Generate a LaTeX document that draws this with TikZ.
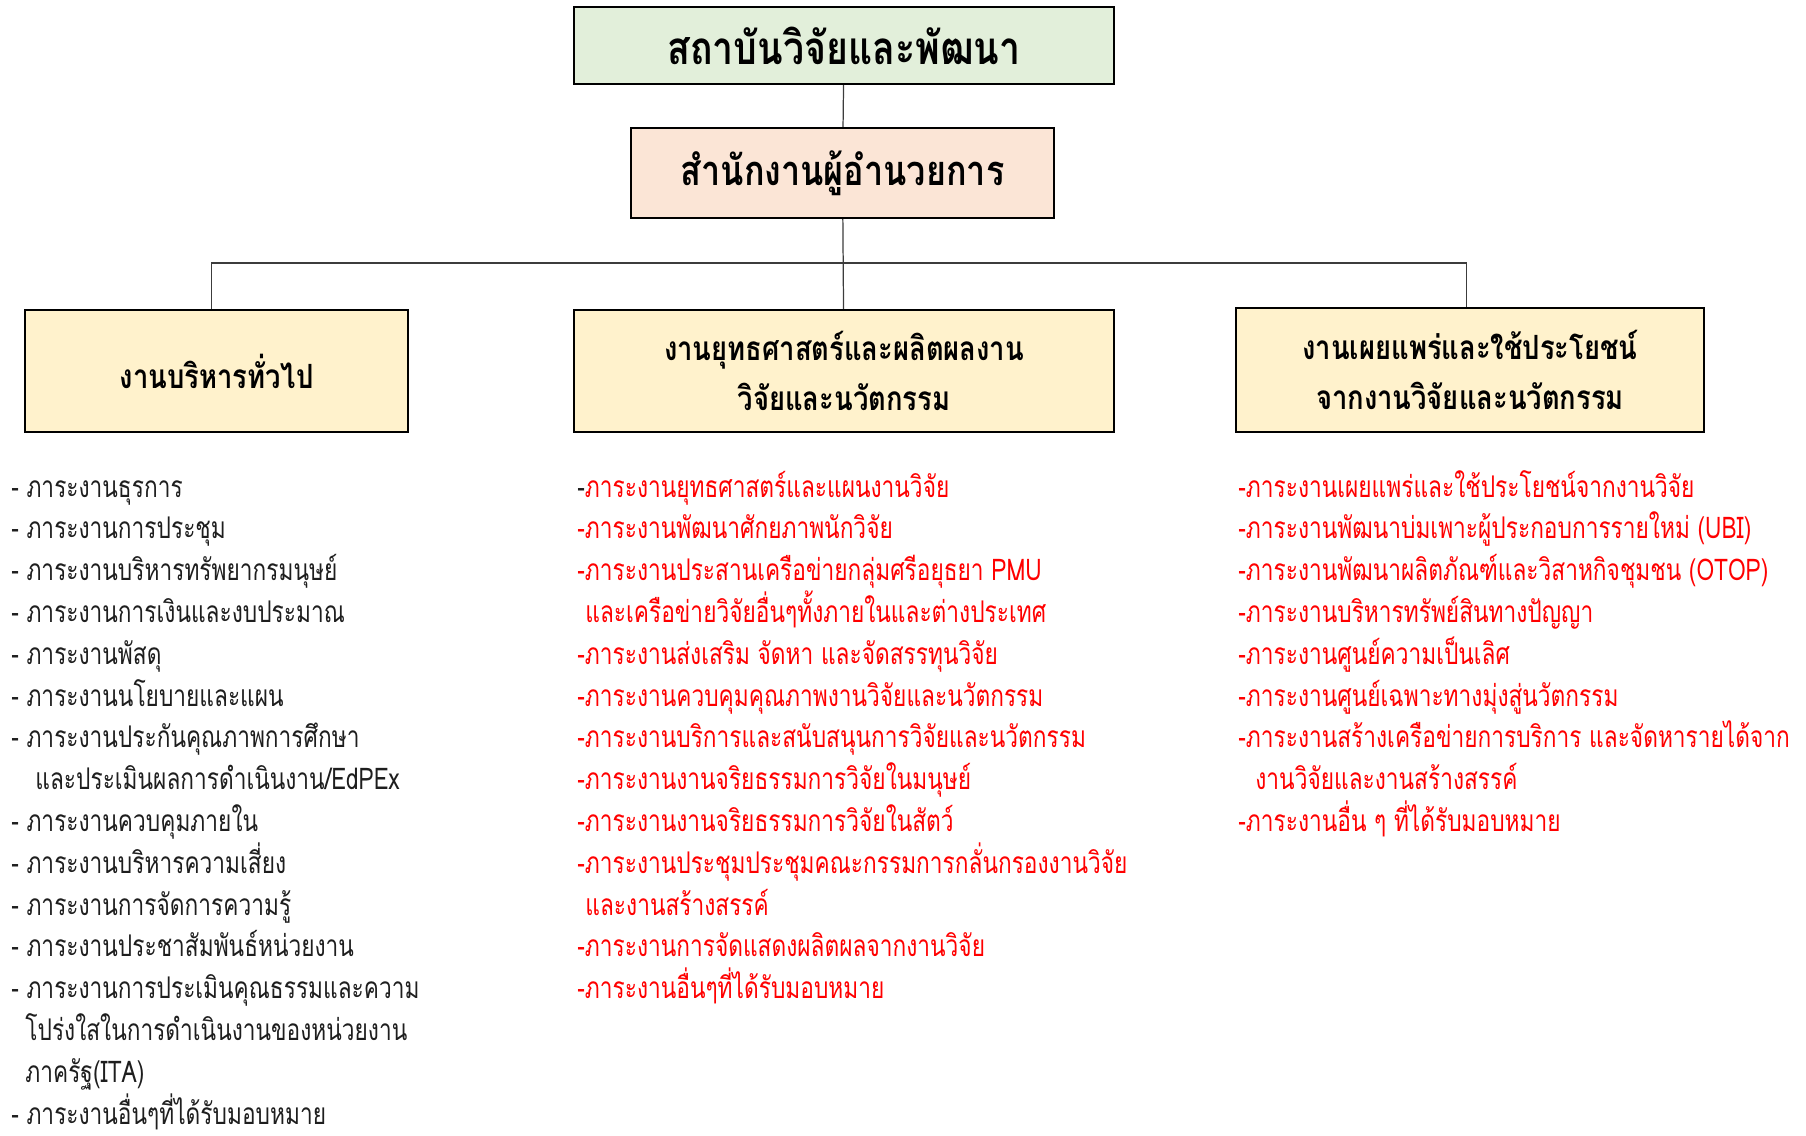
\documentclass[tikz,border=0pt]{standalone}
\usepackage{fontspec}
\newfontfamily\thaifont[Script=Thai,FakeStretch=0.76]{Loma}
\newfontfamily\thaihead[Script=Thai,FakeStretch=0.82]{Loma}
\usepackage{xcolor}
\definecolor{instgreen}{RGB}{226,239,218}
\definecolor{dirpeach}{RGB}{251,229,214}
\definecolor{unityellow}{RGB}{255,242,204}
\definecolor{taskred}{RGB}{255,0,0}
\definecolor{taskblack}{RGB}{30,30,30}
\definecolor{linegray}{RGB}{60,60,60}

\begin{document}
\begin{tikzpicture}[x=0.02cm,y=-0.02cm]
			\tikzstyle{box} = [draw=black,line width=1.4pt,align=center,inner sep=0pt]
			\tikzstyle{unit} = [box,fill=unityellow,minimum height=69.4pt,font=\thaihead\bfseries\fontsize{19}{28}\selectfont]
			\tikzstyle{link} = [draw=linegray,line width=0.7pt]
			\tikzstyle{task} = [anchor=base west,inner sep=0pt,font=\thaifont\fontsize{17}{20}\selectfont]
			\useasboundingbox (0,0) rectangle (1806,1136);
			\node[box,fill=instgreen,minimum width=307.3pt,minimum height=43.8pt,font=\thaihead\bfseries\fontsize{26}{30}\selectfont] (inst) at (844,45.5) {สถาบันวิจัยและพัฒนา};
			\node[box,fill=dirpeach,minimum width=240.7pt,minimum height=51.2pt,font=\thaihead\bfseries\fontsize{23.7}{28}\selectfont] (dir) at (842.5,173) {สำนักงานผู้อำนวยการ};
			\node[unit,minimum width=217.9pt] (admin) at (216.5,371) {งานบริหารทั่วไป};
			\node[unit,minimum width=307.3pt] (strat) at (844,371) {งานยุทธศาสตร์และผลิตผลงาน\\วิจัยและนวัตกรรม};
			\node[unit,minimum width=266.3pt,minimum height=70.6pt] (outr) at (1470,370) {งานเผยแพร่และใช้ประโยชน์\\จากงานวิจัยและนวัตกรรม};
			\coordinate (bus) at (844,263);
			\draw[link] (inst)--(dir);
			\draw[link] (dir)--(strat);
			\draw[link] ([xshift=-3pt]admin.north) |- (bus) -| ([xshift=-2pt]outr.north);
			\foreach \t [count=\i] in {- ภาระงานธุรการ,
				- ภาระงานการประชุม,
				- ภาระงานบริหารทรัพยากรมนุษย์,
				- ภาระงานการเงินและงบประมาณ,
				- ภาระงานพัสดุ,
				- ภาระงานนโยบายและแผน,
				- ภาระงานประกันคุณภาพการศึกษา,
				\hspace*{13.7pt}และประเมินผลการดำเนินงาน/EdPEx,
				- ภาระงานควบคุมภายใน,
				- ภาระงานบริหารความเสี่ยง,
				- ภาระงานการจัดการความรู้,
				- ภาระงานประชาสัมพันธ์หน่วยงาน,
				- ภาระงานการประเมินคุณธรรมและความ,
				\hspace*{8pt}โปร่งใสในการดำเนินงานของหน่วยงาน,
				\hspace*{8pt}ภาครัฐ(ITA),
				- ภาระงานอื่นๆที่ได้รับมอบหมาย}
				\node[task,text=taskblack] (admtask\i) at (11,{497+41.8*(\i-1)}) {\t};
			\foreach \t [count=\i] in {\textcolor{taskblack}{-}ภาระงานยุทธศาสตร์และแผนงานวิจัย,
				-ภาระงานพัฒนาศักยภาพนักวิจัย,
				-ภาระงานประสานเครือข่ายกลุ่มศรีอยุธยา PMU,
				\hspace*{4.6pt}และเครือข่ายวิจัยอื่นๆทั้งภายในและต่างประเทศ,
				-ภาระงานส่งเสริม จัดหา และจัดสรรทุนวิจัย,
				-ภาระงานควบคุมคุณภาพงานวิจัยและนวัตกรรม,
				-ภาระงานบริการและสนับสนุนการวิจัยและนวัตกรรม,
				-ภาระงานงานจริยธรรมการวิจัยในมนุษย์,
				-ภาระงานงานจริยธรรมการวิจัยในสัตว์,
				-ภาระงานประชุมประชุมคณะกรรมการกลั่นกรองงานวิจัย,
				\hspace*{4.6pt}และงานสร้างสรรค์,
				-ภาระงานการจัดแสดงผลิตผลจากงานวิจัย,
				-ภาระงานอื่นๆที่ได้รับมอบหมาย}
				\node[task,text=taskred] (strtask\i) at (577,{497+41.8*(\i-1)}) {\t};
			\foreach \t [count=\i] in {-ภาระงานเผยแพร่และใช้ประโยชน์จากงานวิจัย,
				-ภาระงานพัฒนาบ่มเพาะผู้ประกอบการรายใหม่ (UBI),
				-ภาระงานพัฒนาผลิตภัณฑ์และวิสาหกิจชุมชน (OTOP),
				-ภาระงานบริหารทรัพย์สินทางปัญญา,
				-ภาระงานศูนย์ความเป็นเลิศ,
				-ภาระงานศูนย์เฉพาะทางมุ่งสู่นวัตกรรม,
				-ภาระงานสร้างเครือข่ายการบริการ และจัดหารายได้จาก,
				\hspace*{9.7pt}งานวิจัยและงานสร้างสรรค์,
				-ภาระงานอื่น ๆ ที่ได้รับมอบหมาย}
				\node[task,text=taskred] (outtask\i) at (1238,{497+41.8*(\i-1)}) {\t};
			\end{tikzpicture}
\end{document}
